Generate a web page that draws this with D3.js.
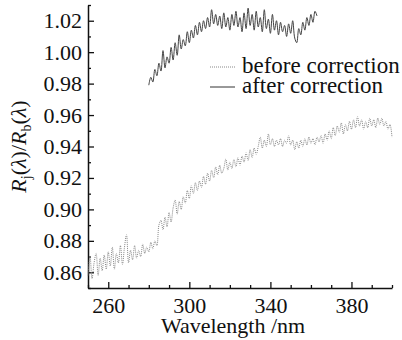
<!DOCTYPE html>
<html>
<head>
<meta charset="utf-8">
<script src="https://cdn.jsdelivr.net/npm/d3@7"></script>
<style>
  body { margin: 0; background: #fff; }
</style>
</head>
<body>
<div id="chart"></div>
<script>
// wavelength start values (nm), one sample per nm
var beforeStart = 250;
var afterStart = 280;

// ratio before correction, 250..400 nm
var beforeValues = [
  0.858, 0.870, 0.856, 0.866, 0.872, 0.858, 0.869, 0.861, 0.871, 0.862,
  0.873, 0.864, 0.876, 0.862, 0.872, 0.866, 0.877, 0.865, 0.876, 0.884,
  0.866, 0.874, 0.868, 0.877, 0.869, 0.874, 0.870, 0.878, 0.872, 0.876,
  0.873, 0.879, 0.875, 0.880, 0.877, 0.890, 0.893, 0.887, 0.895, 0.889,
  0.898, 0.892, 0.901, 0.906, 0.897, 0.905, 0.900, 0.908, 0.904, 0.912,
  0.907, 0.915, 0.910, 0.917, 0.912, 0.918, 0.914, 0.921, 0.916, 0.923,
  0.918, 0.925, 0.920, 0.927, 0.922, 0.928, 0.923, 0.926, 0.932, 0.925,
  0.930, 0.926, 0.932, 0.927, 0.933, 0.928, 0.934, 0.930, 0.936, 0.931,
  0.938, 0.933, 0.939, 0.935, 0.940, 0.946, 0.939, 0.944, 0.940, 0.948,
  0.941, 0.945, 0.940, 0.944, 0.941, 0.945, 0.940, 0.944, 0.942, 0.947,
  0.941, 0.944, 0.938, 0.943, 0.939, 0.944, 0.940, 0.945, 0.941, 0.946,
  0.942, 0.945, 0.941, 0.946, 0.943, 0.947, 0.942, 0.948, 0.944, 0.950,
  0.945, 0.952, 0.947, 0.953, 0.949, 0.955, 0.948, 0.954, 0.950, 0.956,
  0.951, 0.957, 0.952, 0.959, 0.953, 0.957, 0.951, 0.956, 0.952, 0.958,
  0.953, 0.957, 0.952, 0.958, 0.954, 0.958, 0.953, 0.956, 0.951, 0.954,
  0.946
];

// ratio after correction, 280..363 nm
var afterValues = [
  0.979, 0.984, 0.981, 0.989, 0.985, 0.993, 0.988, 1.001, 0.990, 0.997,
  0.993, 1.003, 0.995, 1.006, 0.998, 1.011, 1.002, 1.008, 1.004, 1.013,
  1.006, 1.014, 1.009, 1.017, 1.011, 1.019, 1.013, 1.020, 1.015, 1.022,
  1.016, 1.027, 1.018, 1.024, 1.017, 1.023, 1.015, 1.025, 1.016, 1.022,
  1.014, 1.024, 1.017, 1.026, 1.016, 1.022, 1.013, 1.025, 1.015, 1.028,
  1.017, 1.024, 1.014, 1.026, 1.016, 1.022, 1.013, 1.027, 1.015, 1.021,
  1.012, 1.024, 1.014, 1.020, 1.011, 1.019, 1.013, 1.017, 1.010, 1.018,
  1.012, 1.020, 1.009, 1.006, 1.015, 1.011, 1.019, 1.014, 1.022, 1.017,
  1.024, 1.019, 1.026, 1.023
];

var xTicks = [260, 300, 340, 380];
var yTicks = [0.86, 0.88, 0.90, 0.92, 0.94, 0.96, 0.98, 1.00, 1.02];
var legendLabels = ["before correction", "after correction"];

var fontFam = "Liberation Serif";
var width = 402, height = 340;
var margin = {top: 5, right: 10, bottom: 52, left: 88};

var svg = d3.select("#chart").append("svg")
  .attr("width", width)
  .attr("height", height)
  .attr("font-family", fontFam);

var x = d3.scaleLinear().domain([250, 400]).range([margin.left, width - margin.right]);
var y = d3.scaleLinear().domain([0.85, 1.03]).range([height - margin.bottom, margin.top]);

var beforeData = beforeValues.map(function(v, i) { return {w: beforeStart + i, v: v}; });
var afterData = afterValues.map(function(v, i) { return {w: afterStart + i, v: v}; });

// minor ticks
var xMinor = d3.range(250, 401, 10).filter(function(d) { return xTicks.indexOf(d) < 0; });
var yMinor = d3.range(0.85, 1.031, 0.01).filter(function(d) {
  return !yTicks.some(function(t) { return Math.abs(t - d) < 1e-6; });
});

svg.append("g")
  .attr("transform", "translate(0," + y.range()[0] + ")")
  .call(d3.axisBottom(x).tickValues(xMinor).tickSize(-3).tickFormat(""))
  .call(function(g) { g.select(".domain").remove(); });

svg.append("g")
  .attr("transform", "translate(" + x.range()[0] + ",0)")
  .call(d3.axisLeft(y).tickValues(yMinor).tickSize(-3).tickFormat(""))
  .call(function(g) { g.select(".domain").remove(); });

// major axes
var xAxis = svg.append("g")
  .attr("transform", "translate(0," + y.range()[0] + ")")
  .call(d3.axisBottom(x).tickValues(xTicks).tickSizeInner(-6).tickSizeOuter(0).tickPadding(9).tickFormat(d3.format("d")));

var yAxis = svg.append("g")
  .attr("transform", "translate(" + x.range()[0] + ",0)")
  .call(d3.axisLeft(y).tickValues(yTicks).tickSizeInner(-6).tickSizeOuter(0).tickPadding(6).tickFormat(d3.format(".2f")));

svg.selectAll("g").attr("font-family", fontFam);
svg.selectAll(".tick line").attr("stroke", "#111").attr("stroke-width", 1.3);
svg.selectAll(".domain").attr("stroke", "#111").attr("stroke-width", 1.5);
svg.selectAll(".tick text")
  .attr("font-family", fontFam)
  .attr("font-size", 22)
  .attr("fill", "#111");

var line = d3.line()
  .curve(d3.curveCatmullRom)
  .x(function(d) { return x(d.w); })
  .y(function(d) { return y(d.v); });

svg.append("path")
  .datum(beforeData)
  .attr("fill", "none")
  .attr("stroke", "#888")
  .attr("stroke-width", 1)
  .attr("stroke-dasharray", "1,1")
  .attr("d", line);

svg.append("path")
  .datum(afterData)
  .attr("fill", "none")
  .attr("stroke", "#444")
  .attr("stroke-width", 1)
  .attr("d", line);

// legend
var legend = svg.append("g");
legendLabels.forEach(function(label, i) {
  var ly = 67 + i * 20;
  legend.append("line")
    .attr("x1", 210).attr("x2", 235)
    .attr("y1", ly).attr("y2", ly)
    .attr("stroke", i == 0 ? "#888" : "#333")
    .attr("stroke-width", 1)
    .attr("stroke-dasharray", i == 0 ? "1,1" : null);
  legend.append("text")
    .attr("x", 242)
    .attr("y", ly + 6)
    .attr("font-family", fontFam)
    .attr("font-size", 23)
    .attr("fill", "#111")
    .text(label);
});

// axis titles
svg.append("text")
  .attr("x", 233)
  .attr("y", 333)
  .attr("text-anchor", "middle")
  .attr("font-family", fontFam)
  .attr("font-size", 22)
  .attr("fill", "#111")
  .text("Wavelength /nm");

var yTitle = svg.append("text")
  .attr("transform", "translate(26," + ((y.range()[0] + y.range()[1]) / 2) + ") rotate(-90)")
  .attr("text-anchor", "middle")
  .attr("font-family", fontFam)
  .attr("font-size", 22)
  .attr("fill", "#111");
yTitle.append("tspan").attr("font-style", "italic").text("R");
yTitle.append("tspan").attr("font-size", 14).attr("dy", 5).text("j");
yTitle.append("tspan").attr("dy", -5).text("(");
yTitle.append("tspan").attr("font-style", "italic").text("λ");
yTitle.append("tspan").text(")/");
yTitle.append("tspan").attr("font-style", "italic").text("R");
yTitle.append("tspan").attr("font-size", 14).attr("dy", 5).text("b");
yTitle.append("tspan").attr("dy", -5).text("(");
yTitle.append("tspan").attr("font-style", "italic").text("λ");
yTitle.append("tspan").text(")");
</script>
</body>
</html>
